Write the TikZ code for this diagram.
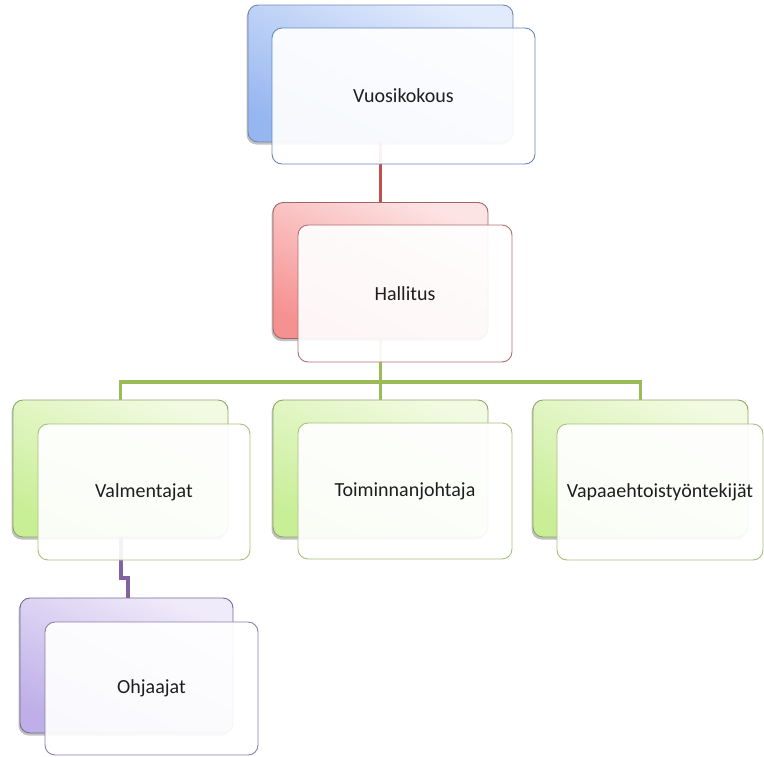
\documentclass[tikz,border=0pt]{standalone}
\usepackage{fontspec}
\setmainfont{Carlito}
\usetikzlibrary{shadows}
\definecolor{bluefill}{RGB}{150,182,240}
\definecolor{bluetop}{RGB}{226,235,252}
\definecolor{blueline}{RGB}{115,135,175}
\definecolor{bluefront}{RGB}{105,135,190}
\definecolor{redfill}{RGB}{246,145,145}
\definecolor{redtop}{RGB}{253,228,228}
\definecolor{redline}{RGB}{160,100,100}
\definecolor{redfront}{RGB}{180,110,110}
\definecolor{redconn}{RGB}{192,80,77}
\definecolor{greenfill}{RGB}{200,238,150}
\definecolor{greentop}{RGB}{242,250,225}
\definecolor{greenline}{RGB}{145,165,105}
\definecolor{greenfront}{RGB}{170,190,125}
\definecolor{greenconn}{RGB}{155,187,89}
\definecolor{purplefill}{RGB}{190,175,232}
\definecolor{purpletop}{RGB}{240,235,250}
\definecolor{purpleline}{RGB}{120,105,145}
\definecolor{purplefront}{RGB}{140,125,170}
\definecolor{purpleconn}{RGB}{128,100,162}
\definecolor{txt}{RGB}{30,30,30}
\tikzset{
  backbox/.style n args={3}{rectangle, rounded corners=10pt, draw=#3, line width=0.9pt,
    top color=#2, bottom color=#1, shading angle=-25,
    drop shadow={shadow xshift=-1.5pt, shadow yshift=-2.5pt, opacity=0.4, fill=black!60},
    inner sep=0pt},
  frontbox/.style={rectangle, rounded corners=10pt, draw=#1, line width=0.9pt,
    fill=white, fill opacity=0.92, text opacity=1, text=txt, font=\fontsize{20}{24}\selectfont,
    inner sep=0pt},
  conn/.style={draw=#1, line width=3.5pt}
}
\begin{document}
\begin{tikzpicture}[x=1pt,y=-1pt]
\useasboundingbox (0,0) rectangle (764,756);
% back boxes
\node[backbox={bluefill}{bluetop}{blueline}, minimum width=265pt, minimum height=137pt] (vb) at (380.5,73.5) {};
\node[backbox={redfill}{redtop}{redline}, minimum width=215pt, minimum height=136pt] (hb) at (380.5,270.5) {};
\node[backbox={greenfill}{greentop}{greenline}, minimum width=215pt, minimum height=137pt] (vab) at (120.5,468.5) {};
\node[backbox={greenfill}{greentop}{greenline}, minimum width=215pt, minimum height=137pt] (tb) at (380.5,468.5) {};
\node[backbox={greenfill}{greentop}{greenline}, minimum width=215pt, minimum height=137pt] (pb) at (640.5,468.5) {};
\node[backbox={purplefill}{purpletop}{purpleline}, minimum width=213pt, minimum height=135pt] (ob) at (126.5,665.5) {};
% connectors
\coordinate (hj) at (380.5,382);
\draw[conn=redconn] (vb.south) -- (hb.north);
\draw[conn=greenconn] (hb.south) -- (hj);
\draw[conn=greenconn] (vab.north) |- (hj) -| (pb.north);
\draw[conn=greenconn] (hj) -- (tb.north);
\coordinate (oj1) at (121,578);
\coordinate (oj2) at (128,578);
\draw[conn=purpleconn] (vab.south -| oj1) -- (oj1) -- (oj2) -- (ob.north -| oj2);
% front boxes
\node[frontbox=bluefront, minimum width=263pt, minimum height=136pt] (v) at (403.5,96) {Vuosikokous};
\node[frontbox=redfront, minimum width=214pt, minimum height=137pt] (h) at (405,293.5) {Hallitus};
\node[frontbox=greenfront, minimum width=212pt, minimum height=136pt] (va) at (144,492) {Valmentajat};
\node[frontbox=greenfront, minimum width=214pt, minimum height=136pt] (t) at (405,491) {Toiminnanjohtaja};
\node[frontbox=greenfront, minimum width=206pt, minimum height=136pt] (p) at (660,492) {Vapaaehtoistyöntekijät};
\node[frontbox=purplefront, minimum width=213pt, minimum height=133pt] (o) at (151.5,688.5) {Ohjaajat};
\end{tikzpicture}
\end{document}
